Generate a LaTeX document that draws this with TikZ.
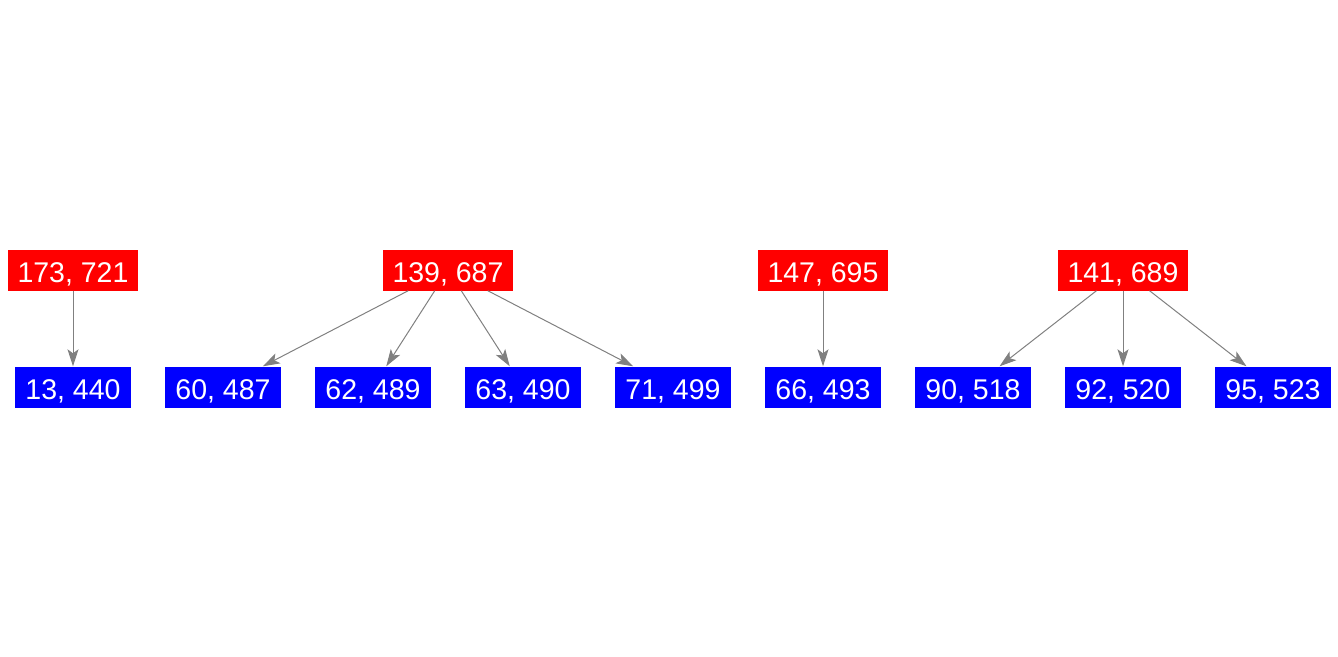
\documentclass[tikz,border=0pt]{standalone}
\usepackage{fontspec}
\setmainfont{Liberation Sans}
\usetikzlibrary{arrows.meta}
\tikzset{
	key/.style={fill=#1, text=white, font=\fontsize{28.5}{28.5}\selectfont,
		inner xsep=10pt, inner ysep=0pt, minimum height=41pt,
		text height=24pt, text depth=0pt},
	edge/.style={draw=gray, line width=1pt, -{Stealth[length=17pt,width=11pt,inset=4pt]}}
}
\begin{document}
\begin{tikzpicture}[x=1pt,y=-1pt]
	\useasboundingbox (0,0) rectangle (1338,656);
	% top row
	\node[key=red] (r1) at (73,270) {173, 721};
	\node[key=red] (r2) at (448,270) {139, 687};
	\node[key=red] (r3) at (823,270) {147, 695};
	\node[key=red] (r4) at (1123,270) {141, 689};
	% bottom row
	\foreach \n/\t [count=\i] in {13/440,60/487,62/489,63/490,71/499,66/493,90/518,92/520,95/523}{
		\node[key=blue] (b\i) at (73+150*\i-150,387) {\n, \t};
	}
	\draw[edge] (r1) -- (b1);
	\foreach \i in {2,...,5}{
		\draw[edge] (r2) -- (b\i);
	}
	\draw[edge] (r3) -- (b6);
	\foreach \i in {7,8,9}{
		\draw[edge] (r4) -- (b\i);
	}
\end{tikzpicture}
\end{document}
